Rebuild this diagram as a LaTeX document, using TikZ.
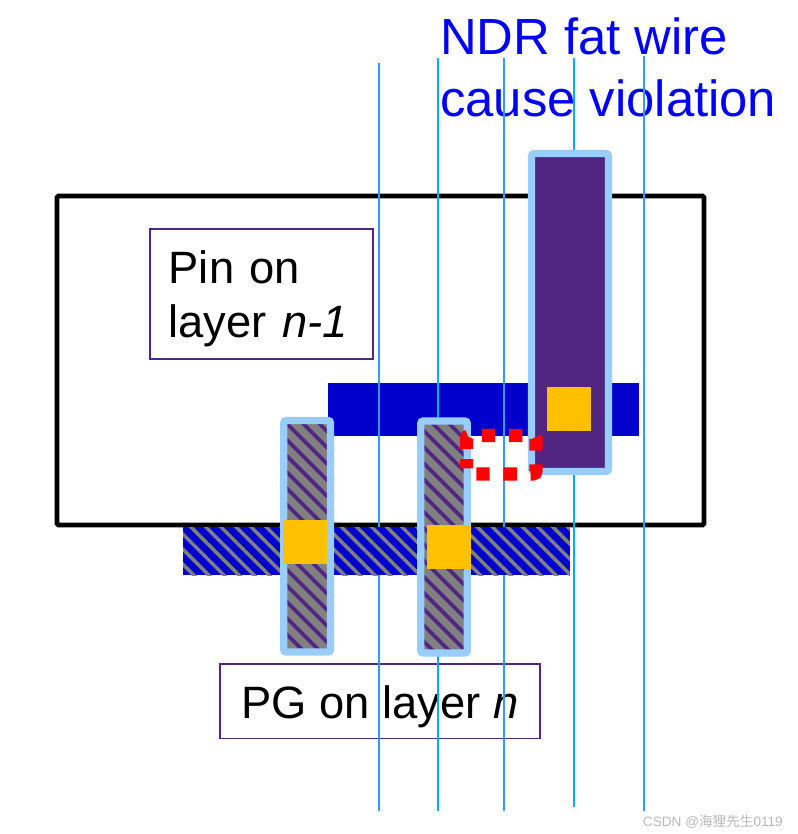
\documentclass[tikz,border=0pt]{standalone}
\usepackage{fontspec}
\setmainfont{Liberation Sans}
\newfontfamily\cjkfont{Noto Sans CJK SC}
\usetikzlibrary{positioning,patterns.meta}
\definecolor{cWire}{RGB}{51,153,255}
\definecolor{cTrack}{RGB}{0,176,240}
\definecolor{cNavy}{RGB}{0,0,204}
\definecolor{cPurple}{RGB}{81,38,131}
\definecolor{cHalo}{RGB}{153,204,255}
\definecolor{cVia}{RGB}{255,192,0}
\definecolor{cGray}{RGB}{128,128,128}
\tikzset{
  cellbox/.style={draw=black,line width=3.4pt,rounded corners=1pt},
  labelbox/.style={draw=cPurple,line width=1.3pt,inner ysep=0pt,align=left,font=\fontsize{34}{40.5}\selectfont},
  wirearr/.style={draw=cWire,line width=1.4pt},
  trackarr/.style={draw=cTrack,line width=1.4pt},
  pgbar/.style={preaction={fill=cNavy},pattern={Lines[angle=-45,distance=8pt,line width=2.6pt]},pattern color=cGray},
  pinbar/.style={fill=cNavy},
  hatchvia/.style={draw=cHalo,line width=5.6pt,rounded corners=2pt,preaction={fill=cGray},
                   pattern={Lines[angle=-45,distance=8.6pt,line width=2.8pt]},pattern color=cPurple},
  fatwire/.style={draw=cHalo,line width=5.4pt,rounded corners=2pt,fill=cPurple},
  viacut/.style={fill=cVia},
  viol/.style={draw=red,line width=10pt,rounded corners=2.5pt,dash pattern=on 10pt off 10.4pt}
}
\begin{document}
\begin{tikzpicture}[x=0.75pt,y=-0.75pt]
  \useasboundingbox (0,0) rectangle (797,834);

  % cell outline and the lower layer pin
  \draw[cellbox] (57,196) rectangle (704,525);
  \fill[pinbar] (328,383) rectangle (639,436);

  \node[labelbox,minimum width=167.25pt,minimum height=97.5pt,inner xsep=14pt,text width=139pt,anchor=north west] (pinlabel)
      at (149,228) {\rule{0pt}{31.5pt}Pin on\\layer \textit{n-1}};
  \node[labelbox,minimum width=240pt,minimum height=56pt,anchor=north west] (pglabel)
      at (219,663) {\rule{0pt}{32.5pt}PG on layer \textit{n}};
  \node[anchor=north west,inner sep=0pt,align=left,text=blue,font=\fontsize{38.1}{46.5}\selectfont] (title)
      at (440,17) {NDR fat wire\\cause violation};

  % routing tracks
  \coordinate (t1a) at (379,63);  \coordinate (t1b) at (379,811);
  \coordinate (t2a) at (438,58);  \coordinate (t2b) at (438,811);
  \coordinate (t3a) at (504,58);  \coordinate (t3b) at (504,811);
  \coordinate (t4a) at (574,58);  \coordinate (t4b) at (574,807);
  \coordinate (t5a) at (644,56);  \coordinate (t5b) at (644,811);
  \draw[wirearr] (t1a) -- (t1b);
  \draw[trackarr] (t2a) -- (t2b);
  \draw[wirearr] (t3a) -- (t3b);
  \draw[trackarr] (t4a) -- (t4b);
  \draw[wirearr] (t5a) -- (t5b);

  % PG strap with vias
  \fill[pgbar] (183,527) rectangle (570,575);
  \draw[hatchvia] (283.75,420.5) rectangle (330.5,652);
  \draw[hatchvia] (420.75,421) rectangle (467.25,653);
  \draw[fatwire] (531.5,153.5) rectangle (608.5,471.5);
  \fill[viacut] (283,520) rectangle (327,564);
  \fill[viacut] (427,525) rectangle (471,569);
  \fill[viacut] (547,387) rectangle (591,431);

  % violation marker
  \draw[viol] (466.5,449) -- (466.5,435.5) -- (536,435.5) -- (536,474) -- (466.5,474) -- (466.5,459);

  \node[anchor=south east,inner sep=0pt,text=black!28,font=\fontsize{10.2}{12}\selectfont] (mark)
      at (783,829) {CSDN @{\cjkfont 海狸先生}0119};
\end{tikzpicture}
\end{document}
